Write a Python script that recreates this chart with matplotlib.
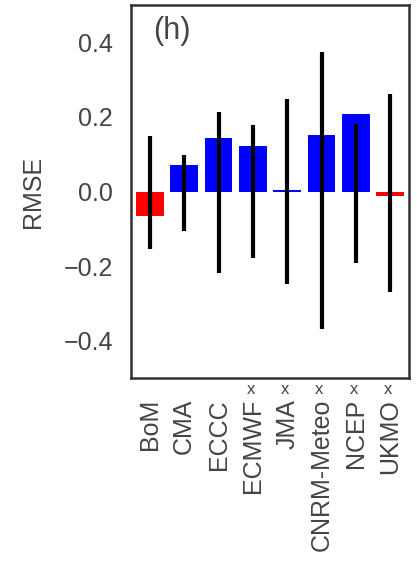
import matplotlib
matplotlib.use("Agg")
import matplotlib.pyplot as plt

plt.rcParams.update({
    "font.family": ["Liberation Sans", "DejaVu Sans"],
    "font.size": 18,
})

models = ["BoM", "CMA", "ECCC", "ECMWF", "JMA", "CNRM-Meteo", "NCEP", "UKMO"]
flagged = [False, False, False, True, True, True, True, True]
rmse_diff = [-0.066, 0.072, 0.144, 0.121, 0.003, 0.152, 0.207, -0.012]
range_hi = [0.149, 0.099, 0.214, 0.178, 0.249, 0.374, 0.182, 0.261]
range_lo = [-0.153, -0.106, -0.218, -0.177, -0.249, -0.368, -0.192, -0.270]

text_col = "#444444"
colors = ["#ff0000" if v < 0 else "#0000ff" for v in rmse_diff]

fig = plt.figure(figsize=(4.17, 5.61), dpi=100)
ax = fig.add_axes([0.314, 0.326, 0.667, 0.665])

x = list(range(len(models)))
ax.bar(x, rmse_diff, width=0.8, color=colors, edgecolor="none", zorder=2)
ax.vlines(x, range_lo, range_hi, color="black", lw=3, zorder=3)

ax.set_xlim(-0.55, 7.55)
ax.set_ylim(-0.5, 0.5)
ax.set_yticks([-0.4, -0.2, 0.0, 0.2, 0.4])
ax.set_xticks(x)
ax.set_xticklabels(models, rotation=90)
ax.tick_params(length=0, colors=text_col, labelsize=18)
ax.tick_params(axis="y", pad=13)
ax.tick_params(axis="x", pad=15)
ax.set_ylabel("RMSE", color=text_col, fontsize=18, labelpad=13)

# small "x" marks above flagged model names
for i, f in zip(x, flagged):
    if f:
        ax.annotate("x", xy=(i, 0), xycoords=("data", "axes fraction"),
                    xytext=(-1.5, -8), textcoords="offset points",
                    ha="center", va="center", fontsize=12, color=text_col)

for s in ax.spines.values():
    s.set_color("#333333")
    s.set_linewidth(1.8)

ax.text(0.08, 0.97, "(h)", transform=ax.transAxes, fontsize=22,
        color=text_col, ha="left", va="top")

fig.savefig("out.png", dpi=100)
